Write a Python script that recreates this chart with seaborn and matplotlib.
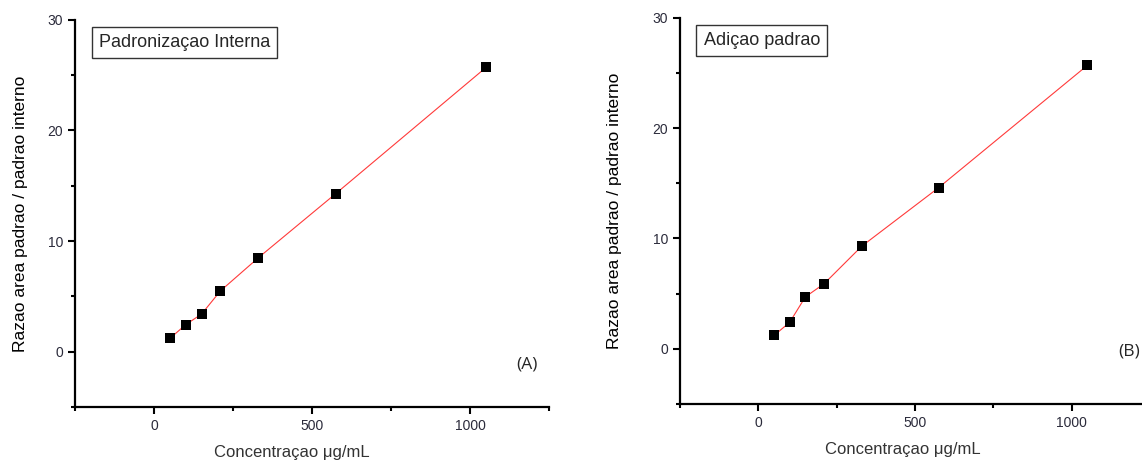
import numpy as np
import pandas as pd
import matplotlib
matplotlib.use('Agg')
import matplotlib.pyplot as plt
from matplotlib.ticker import MultipleLocator
import seaborn as sns

# concentration (ug/mL) and area ratio
conc = [50, 100, 150, 210, 330, 575, 1050]
ratio_A = [1.2, 2.45, 3.4, 5.5, 8.5, 14.3, 25.7]
ratio_B = [1.2, 2.4, 4.7, 5.9, 9.3, 14.6, 25.7]

box_titles = ['Padronizaçao Interna', 'Adiçao padrao']
panel_tags = ['(A)', '(B)']

sns.set_style('ticks')
plt.rcParams['font.family'] = ['Liberation Sans', 'DejaVu Sans']

fig = plt.figure(figsize=(11.42, 4.61), dpi=100)
ax1 = fig.add_axes([0.0657, 0.117, 0.4153, 0.840])
ax2 = fig.add_axes([0.5955, 0.124, 0.4115, 0.837])

# per panel: ylabel x, xlabel x, tag position
ylab_x = [-0.10, -0.124]
xlab_x = [0.458, 0.474]
tag_pos = [(0.975, 0.11), (0.979, 0.135)]

for i, (ax, ratio, title, tag) in enumerate(zip([ax1, ax2], [ratio_A, ratio_B], box_titles, panel_tags)):
    df = pd.DataFrame({'x': conc, 'y': ratio})
    sns.lineplot(data=df, x='x', y='y', ax=ax, color='#ff3a3a', linewidth=0.8,
                 marker='s', markersize=6.5, markerfacecolor='black',
                 markeredgecolor='black', markeredgewidth=0)
    ax.set_xlim(-250, 1250)
    ax.set_ylim(-5, 30)
    ax.xaxis.set_major_locator(MultipleLocator(500))
    ax.xaxis.set_minor_locator(MultipleLocator(250))
    ax.yaxis.set_major_locator(MultipleLocator(10))
    ax.yaxis.set_minor_locator(MultipleLocator(5))
    sns.despine(ax=ax)
    for s in ['left', 'bottom']:
        ax.spines[s].set_linewidth(1.6)
        ax.spines[s].set_color('black')
    ax.tick_params(which='major', direction='out', length=5, width=1.5,
                   labelsize=10, labelcolor='#2b2b3b', color='black')
    ax.tick_params(which='minor', direction='out', length=3, width=1.5, color='black')
    ax.set_xlabel('Concentraçao μg/mL', fontsize=12, color='#333333')
    ax.set_ylabel('Razao area padrao / padrao interno', fontsize=12.5, color='black')
    ax.xaxis.set_label_coords(xlab_x[i], -0.098)
    ax.yaxis.set_label_coords(ylab_x[i], 0.5)
    ax.text(0.05, 0.963, title, transform=ax.transAxes, fontsize=13, va='top', ha='left',
            bbox=dict(boxstyle='square,pad=0.4', facecolor='white', edgecolor='#333333', linewidth=1))
    ax.text(tag_pos[i][0], tag_pos[i][1], tag, transform=ax.transAxes,
            fontsize=12.5, family=['Open Sans', 'DejaVu Sans'], ha='right', va='center')

fig.savefig('out.png', dpi=100)
